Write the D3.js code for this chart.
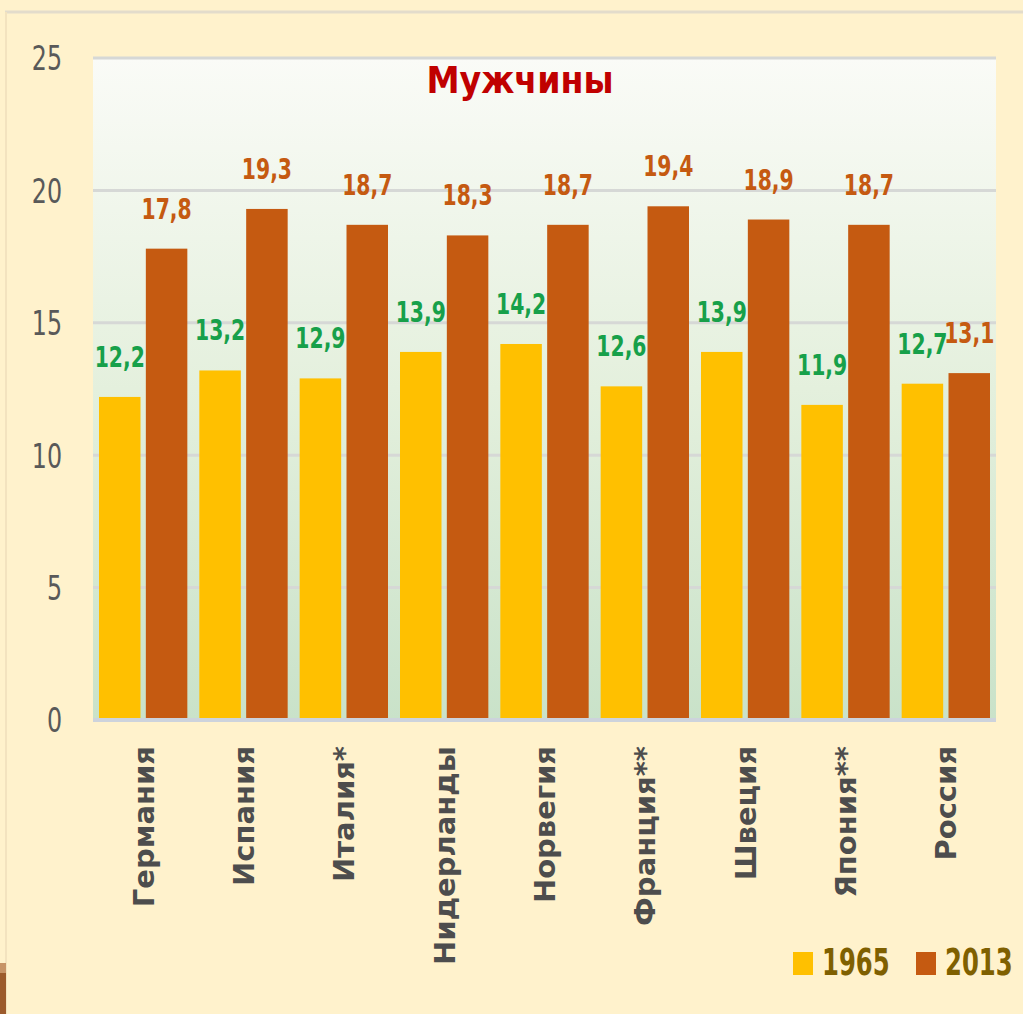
<!DOCTYPE html>
<html>
<head>
<meta charset="utf-8">
<script src="https://cdn.jsdelivr.net/npm/d3@7"></script>
<style>
  html, body { margin: 0; padding: 0; background: #fff2cc; }
  svg { display: block; }
  .narrow { font-family: "DejaVu Sans Condensed", "DejaVu Sans", sans-serif; }
</style>
</head>
<body>
<svg width="1023" height="1014"></svg>
<script>
// countries and years
var countries = ["Германия", "Испания", "Италия*", "Нидерланды", "Норвегия",
                 "Франция**", "Швеция", "Япония**", "Россия"];
var years = ["1965", "2013"];
// values per year
var v1965 = [12.2, 13.2, 12.9, 13.9, 14.2, 12.6, 13.9, 11.9, 12.7];
var v2013 = [17.8, 19.3, 18.7, 18.3, 18.7, 19.4, 18.9, 18.7, 13.1];
var yTicks = [0, 5, 10, 15, 20, 25];
var title = "Мужчины";

var svg = d3.select("svg");

var plot = {left: 93, right: 996, top: 58, bottom: 720};

var defs = svg.append("defs");
var grad = defs.append("linearGradient")
  .attr("id", "bg").attr("x1", 0).attr("y1", 0).attr("x2", 0).attr("y2", 1);
grad.append("stop").attr("offset", "0%").attr("stop-color", "#fafbf7");
grad.append("stop").attr("offset", "50%").attr("stop-color", "#e4f0dd");
grad.append("stop").attr("offset", "100%").attr("stop-color", "#c9e2c9");

// slide frame
svg.append("rect").attr("x", 0).attr("y", 0).attr("width", 1023).attr("height", 1014).attr("fill", "#fff2cc");
svg.append("line").attr("x1", 5).attr("x2", 1023).attr("y1", 12).attr("y2", 12)
  .attr("stroke", "#e3dccb").attr("stroke-width", 3);
svg.append("line").attr("x1", 6).attr("x2", 6).attr("y1", 12).attr("y2", 1014)
  .attr("stroke", "#f3e3bf").attr("stroke-width", 2);
svg.append("rect").attr("x", 0).attr("y", 963).attr("width", 6).attr("height", 10).attr("fill", "#c79467");
svg.append("rect").attr("x", 0).attr("y", 973).attr("width", 6).attr("height", 41).attr("fill", "#9c5b2c");

var y = d3.scaleLinear().domain([0, 25]).range([plot.bottom, plot.top]);
var x = d3.scaleBand().domain(countries).range([plot.left, plot.right]).padding(0);
var xs = d3.scaleBand().domain(years)
  .range([6, x.bandwidth() - 6]).paddingInner(0.114).paddingOuter(0);

var color = d3.scaleOrdinal().domain(years).range(["#ffc000", "#c55a11"]);
var labelColor = d3.scaleOrdinal().domain(years).range(["#17a04a", "#c55a11"]);

// plot area
svg.append("rect")
  .attr("x", plot.left).attr("y", plot.top)
  .attr("width", plot.right - plot.left).attr("height", plot.bottom - plot.top)
  .attr("fill", "url(#bg)");

// gridlines
svg.append("g")
  .selectAll("line")
  .data(yTicks.filter(function(d){ return d > 0; }))
  .enter()
  .append("line")
    .attr("x1", plot.left).attr("x2", plot.right)
    .attr("y1", function(d){ return y(d); })
    .attr("y2", function(d){ return y(d); })
    .attr("stroke", "#d6d8d6")
    .attr("stroke-width", 3);

// y axis labels (squeezed sideways like the original)
var yAxis = svg.append("g")
  .attr("transform", "translate(62,0)")
  .call(d3.axisLeft(y).tickValues(yTicks).tickSize(0).tickPadding(0));
yAxis.select(".domain").remove();
yAxis.selectAll(".tick text")
  .attr("class", "narrow")
  .attr("font-size", 33)
  .attr("fill", "#595959")
  .attr("x", 0)
  .attr("dy", "0.36em")
  .attr("transform", "scale(0.8,1)");

// bars
var table = countries.map(function(c, i){
  return {country: c, values: [{year: "1965", value: v1965[i]}, {year: "2013", value: v2013[i]}]};
});

var groups = svg.append("g")
  .selectAll("g")
  .data(table)
  .enter()
  .append("g")
    .attr("transform", function(d){ return "translate(" + x(d.country) + ",0)"; });

groups.selectAll("rect")
  .data(function(d){ return d.values; })
  .enter()
  .append("rect")
    .attr("x", function(d){ return xs(d.year); })
    .attr("y", function(d){ return y(d.value); })
    .attr("width", xs.bandwidth())
    .attr("height", function(d){ return y(0) - y(d.value); })
    .attr("fill", function(d){ return color(d.year); });

groups.selectAll("text")
  .data(function(d){ return d.values; })
  .enter()
  .append("text")
    .attr("class", "narrow")
    .attr("transform", function(d){
      return "translate(" + (xs(d.year) + xs.bandwidth() / 2) + "," + (y(d.value) - 30) + ") scale(0.78,1)";
    })
    .attr("text-anchor", "middle")
    .attr("font-size", 29)
    .attr("font-weight", "bold")
    .attr("fill", function(d){ return labelColor(d.year); })
    .text(function(d){ return String(d.value).replace(".", ","); });

// baseline
svg.append("line")
  .attr("x1", plot.left).attr("x2", plot.right)
  .attr("y1", y(0)).attr("y2", y(0))
  .attr("stroke", "#cdd3dc").attr("stroke-width", 4);

// category labels
svg.append("g")
  .selectAll("text")
  .data(countries)
  .enter()
  .append("text")
    .attr("transform", function(d){ return "translate(" + (x(d) + x.bandwidth() / 2) + "," + 746 + ") rotate(-90)"; })
    .attr("text-anchor", "end")
    .attr("dy", "0.36em")
    .attr("font-family", "DejaVu Sans, Verdana, sans-serif")
    .attr("font-weight", "bold")
    .attr("font-size", 29)
    .attr("fill", "#4d4d4d")
    .text(function(d){ return d; });

// title
svg.append("text")
  .attr("class", "narrow")
  .attr("x", 520).attr("y", 93)
  .attr("text-anchor", "middle")
  .attr("font-size", 37)
  .attr("font-weight", "bold")
  .attr("fill", "#c00000")
  .text(title);

// legend
var legendX = [793, 916];
var legend = svg.append("g")
  .selectAll("g")
  .data(years)
  .enter()
  .append("g")
    .attr("transform", function(d, i){ return "translate(" + legendX[i] + ",952)"; });
legend.append("rect")
  .attr("width", 20).attr("height", 23)
  .attr("fill", function(d){ return color(d); });
legend.append("text")
  .attr("class", "narrow")
  .attr("transform", "translate(29,23) scale(0.73,1)")
  .attr("font-size", 37)
  .attr("font-weight", "bold")
  .attr("fill", "#7f6000")
  .text(function(d){ return d; });
</script>
</body>
</html>
